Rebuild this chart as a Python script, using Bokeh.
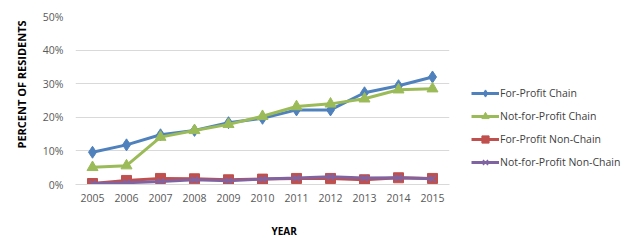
from bokeh.plotting import figure
from bokeh.models import Legend, LegendItem, NumeralTickFormatter, Title, FixedTicker
from bokeh.embed import file_html
from bokeh.resources import INLINE

years = ["2005", "2006", "2007", "2008", "2009", "2010", "2011", "2012", "2013", "2014", "2015"]
for_profit_chain = [0.096, 0.118, 0.148, 0.161, 0.184, 0.197, 0.222, 0.222, 0.273, 0.294, 0.320]
not_for_profit_chain = [0.051, 0.056, 0.141, 0.161, 0.179, 0.203, 0.232, 0.240, 0.255, 0.282, 0.285]
for_profit_non_chain = [0.003, 0.012, 0.018, 0.017, 0.014, 0.016, 0.018, 0.018, 0.014, 0.020, 0.018]
not_for_profit_non_chain = [0.003, 0.005, 0.009, 0.014, 0.011, 0.016, 0.019, 0.023, 0.019, 0.020, 0.017]
y_ticks = [0.0, 0.1, 0.2, 0.3, 0.4, 0.5]

FONT = "Open Sans"
TICK_COLOR = "#595959"
GRID = "#d9d9d9"

p = figure(x_range=years, y_range=(0, 0.5), output_backend="svg", toolbar_location=None,
           frame_width=374, frame_height=168,
           min_border_left=71, min_border_top=16, min_border_bottom=60, min_border_right=0)
p.outline_line_color = None
p.background_fill_color = "white"
p.border_fill_color = "white"

p.xgrid.grid_line_color = None
p.ygrid.grid_line_color = GRID
p.ygrid.grid_line_width = 1

p.yaxis.ticker = FixedTicker(ticks=y_ticks)
p.yaxis.formatter = NumeralTickFormatter(format="0%")
p.yaxis.axis_line_color = None
p.yaxis.major_tick_line_color = None
p.yaxis.minor_tick_line_color = None
p.yaxis.major_tick_out = 0
p.yaxis.minor_tick_out = 0
p.yaxis.major_label_standoff = 12

p.xaxis.axis_line_color = GRID
p.xaxis.major_tick_line_color = None
p.xaxis.minor_tick_line_color = None
p.xaxis.major_tick_out = 0
p.xaxis.minor_tick_out = 0
p.xaxis.major_label_standoff = 9

for ax in (p.xaxis, p.yaxis):
    ax.major_label_text_font = FONT
    ax.major_label_text_font_size = "10.5px"
    ax.major_label_text_color = TICK_COLOR

series = [
    ("For-Profit Chain", for_profit_chain, "#4f81bd", "diamond", 12),
    ("Not-for-Profit Chain", not_for_profit_chain, "#9bbb59", "triangle", 11),
    ("For-Profit Non-Chain", for_profit_non_chain, "#c0504d", "square", 10),
    ("Not-for-Profit Non-Chain", not_for_profit_non_chain, "#8064a2", "x", 9),
]
items = []
for name, vals, col, mk, sz in series:
    l = p.line(years, vals, line_color=col, line_width=3)
    m = p.scatter(years, vals, marker=mk, size=sz, fill_color=col, line_color=col, line_width=1.5 if mk == "x" else 1)
    items.append(LegendItem(label=name, renderers=[l, m]))

legend = Legend(items=items, location=(22, 13.5), orientation="vertical")
legend.border_line_color = None
legend.background_fill_alpha = 0
legend.label_text_font = FONT
legend.label_text_font_size = "10.5px"
legend.label_text_color = "#404040"
legend.glyph_width = 28
legend.glyph_height = 18
legend.label_height = 18
legend.label_standoff = 1
legend.spacing = 5
legend.padding = 0
legend.margin = 0
p.add_layout(legend, "right")

x_title = Title(text="YEAR", align="left", offset=196, standoff=34, text_font=FONT,
                text_font_size="10px", text_font_style="bold", text_color="black")
p.add_layout(x_title, "below")
y_title = Title(text="PERCENT OF RESIDENTS", align="left", offset=36, standoff=22, text_font=FONT,
                text_font_size="11px", text_font_style="bold", text_color="black")
p.add_layout(y_title, "left")

open("out.html", "w").write(file_html(p, INLINE))
